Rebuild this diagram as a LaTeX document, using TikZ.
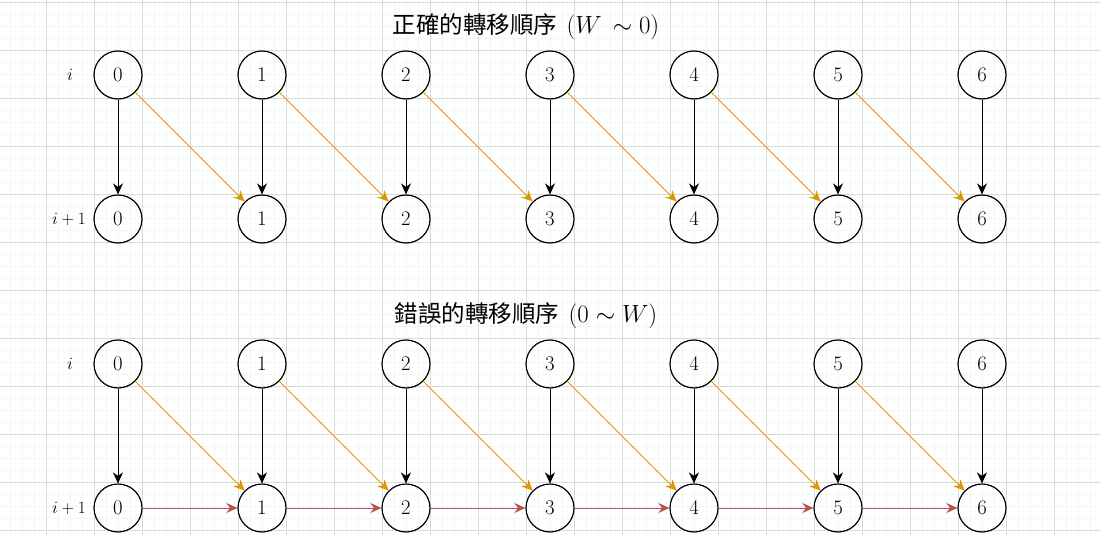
\documentclass[tikz,border=0pt]{standalone}
\usepackage{fontspec}
\newfontfamily\cjk{Noto Sans CJK TC}
\usetikzlibrary{arrows.meta}
\definecolor{ylw}{HTML}{D79B00}
\definecolor{rd}{HTML}{B85450}
\definecolor{gmaj}{HTML}{DADADA}
\definecolor{gmin}{HTML}{F5F5F5}
\tikzset{
  st/.style={circle, draw, line width=1.2pt, minimum size=48pt, inner sep=0pt, font=\fontsize{20}{23}\selectfont},
  lbl/.style={font=\fontsize{17}{20}\selectfont},
  ttl/.style={font=\fontsize{31}{35}\selectfont, inner sep=0pt},
  arr/.style={-{Stealth[length=11pt,width=10pt,inset=3.5pt]}, line width=1pt},
  blk/.style={arr, black},
  yel/.style={arr, ylw},
  red/.style={arr, rd},
}
\begin{document}
\begin{tikzpicture}[x=1pt,y=-1pt]
\useasboundingbox (0,0) rectangle (1101,535);
\fill[white] (0,0) rectangle (1101,535);
% grid
\foreach \i in {0,...,93} {
  \draw[gmin, line width=1pt] ({-1.7+12*\i},0) -- ({-1.7+12*\i},535);
}
\foreach \i in {0,...,45} {
  \draw[gmin, line width=1pt] (0,{2.7+12*\i}) -- (1101,{2.7+12*\i});
}
\foreach \i in {1,...,23} {
  \draw[gmaj, line width=0.8pt] ({-1.7+48*\i},0) -- ({-1.7+48*\i},535);
}
\foreach \i in {0,...,11} {
  \draw[gmaj, line width=0.8pt] (0,{2.7+48*\i}) -- (1101,{2.7+48*\i});
}
% titles
\node[ttl] (title1) at (526,27) {{\cjk\fontsize{23.5}{27}\selectfont 正確的轉移順序} $(W\,\sim0)$};
\node[ttl] (title2) at (526,316) {{\cjk\fontsize{23.5}{27}\selectfont 錯誤的轉移順序} $(0\sim W)$};
% row labels
\node[lbl] (la) at (70,75) {$i$};
\node[lbl] (lb) at (69,219) {$i+1$};
\node[lbl] (lc) at (70,364) {$i$};
\node[lbl] (ld) at (69,508) {$i+1$};
% nodes
\foreach \k in {0,...,6} {
  \node[st] (a\k) at ({118+144*\k},75) {$\k$};
  \node[st] (b\k) at ({118+144*\k},219) {$\k$};
  \node[st] (c\k) at ({118+144*\k},364) {$\k$};
  \node[st] (d\k) at ({118+144*\k},508) {$\k$};
}
\foreach \k in {0,...,6} {
  \draw[blk] (a\k) -- (b\k);
  \draw[blk] (c\k) -- (d\k);
}
\foreach \k/\n in {0/1,1/2,2/3,3/4,4/5,5/6} {
  \draw[yel] (a\k.south east) -- (b\n.north west);
  \draw[yel] (c\k.south east) -- (d\n.north west);
  \draw[red] (d\k) -- (d\n);
}
\end{tikzpicture}
\end{document}
